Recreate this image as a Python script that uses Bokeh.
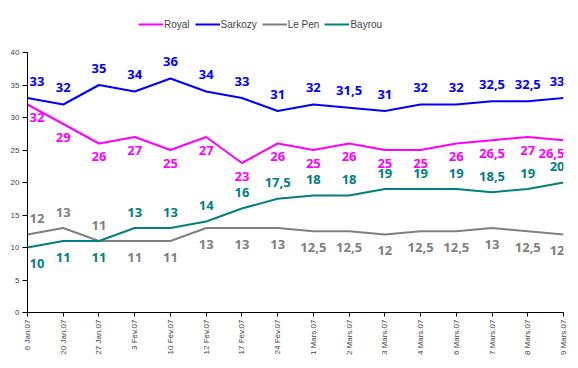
from math import pi
from bokeh.plotting import figure
from bokeh.models import ColumnDataSource, FixedTicker, Legend, LegendItem, Range1d
from bokeh.core.properties import value
from bokeh.embed import file_html
from bokeh.resources import INLINE

dates = ["6 Jan.07", "20 Jan.07", "27 Jan.07", "3 Fév.07", "10 Fév.07", "12 Fév.07",
         "17 Fév.07", "24 Fév.07", "1 Mars.07", "2 Mars.07", "3 Mars.07", "4 Mars.07",
         "6 Mars.07", "7 Mars.07", "8 Mars.07", "9 Mars.07"]
royal = [32, 29, 26, 27, 25, 27, 23, 26, 25, 26, 25, 25, 26, 26.5, 27, 26.5]
sarkozy = [33, 32, 35, 34, 36, 34, 33, 31, 32, 31.5, 31, 32, 32, 32.5, 32.5, 33]
lepen = [12, 13, 11, 11, 11, 13, 13, 13, 12.5, 12.5, 12, 12.5, 12.5, 13, 12.5, 12]
bayrou = [10, 11, 11, 13, 13, 14, 16, 17.5, 18, 18, 19, 19, 19, 18.5, 19, 20]
y_ticks = [0, 5, 10, 15, 20, 25, 30, 35, 40]

names = ["Royal", "Sarkozy", "Le Pen", "Bayrou"]
colors = ["#FF00FF", "#0000FF", "#808080", "#008080"]

n = len(dates)
xs = list(range(n))

# frame extends above the 40 line so the legend sits inside it
FRAME_H = 300
Y_TOP = 40 * FRAME_H / 260.0

p = figure(frame_width=536, frame_height=FRAME_H, output_backend="svg", toolbar_location=None,
           x_range=Range1d(0, n - 1), y_range=Range1d(0, Y_TOP),
           min_border_left=27, min_border_right=15, min_border_top=12, min_border_bottom=52)
p.outline_line_color = None
p.xgrid.visible = False
p.ygrid.visible = False
p.background_fill_color = "white"
p.border_fill_color = "white"

p.yaxis.ticker = FixedTicker(ticks=y_ticks)
p.yaxis.bounds = (0, 40)
p.yaxis.minor_tick_line_color = None
p.yaxis.major_tick_in = 0
p.yaxis.major_tick_out = 5
p.yaxis.major_label_standoff = 3
p.yaxis.major_label_text_font = "Liberation Sans"
p.yaxis.major_label_text_font_size = "8px"
p.yaxis.axis_line_color = "black"
p.yaxis.major_tick_line_color = "black"

p.xaxis.ticker = FixedTicker(ticks=xs)
p.xaxis.major_label_overrides = {i: d for i, d in enumerate(dates)}
p.xaxis.major_label_orientation = pi / 2
p.xaxis.minor_tick_line_color = None
p.xaxis.major_tick_in = 0
p.xaxis.major_tick_out = 4
p.xaxis.major_label_standoff = 3
p.xaxis.major_label_text_font = "Liberation Sans"
p.xaxis.major_label_text_font_size = "8px"
p.xaxis.axis_line_color = "black"
p.xaxis.major_tick_line_color = "black"


def fmt(v):
    return ("%g" % v).replace(".", ",")


series = [royal, sarkozy, lepen, bayrou]
offsets = [
    [13] * n,
    [-17] * n,
    [-16 if lepen[i] >= bayrou[i] else 16 for i in range(n)],
    [16 if bayrou[i] <= lepen[i] else -16 for i in range(n)],
]
aligns = ["left"] + ["center"] * (n - 2) + ["right"]
xoffs = [2] + [0] * (n - 2) + [1]

items = []
for name, col, vals, offs in zip(names, colors, series, offsets):
    src = ColumnDataSource(dict(x=xs, y=vals, t=[fmt(v) for v in vals],
                                yo=offs, al=aligns, xo=xoffs))
    r = p.line("x", "y", source=src, line_color=col, line_width=2)
    p.text("x", "y", text="t", source=src, text_color=col, x_offset="xo", y_offset="yo",
           text_align="al", text_baseline="middle",
           text_font=value("Noto Sans"), text_font_size="13px", text_font_style="bold")
    items.append(LegendItem(label=name, renderers=[r]))

legend = Legend(items=items, orientation="horizontal", location=(111, 282),
                border_line_color=None, background_fill_alpha=0, padding=0, margin=0,
                spacing=5, label_standoff=1, glyph_width=25, glyph_height=12,
                label_height=12, label_text_font="Liberation Sans",
                label_text_font_size="10px")
p.add_layout(legend)

open("out.html", "w").write(file_html(p, INLINE))
